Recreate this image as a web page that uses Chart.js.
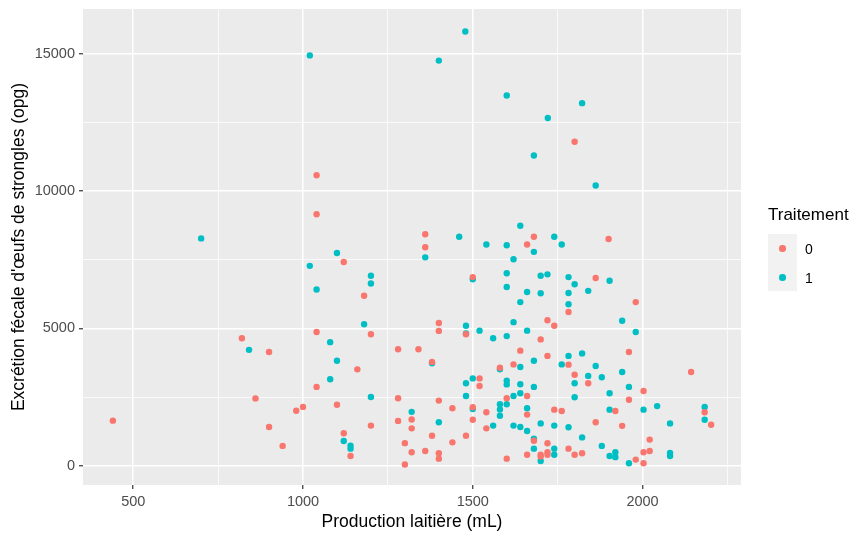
<!DOCTYPE html>
<html>
<head>
<meta charset="utf-8">
<script src="https://cdn.jsdelivr.net/npm/chart.js@4.4.1/dist/chart.umd.min.js"></script>
<style>
  body { margin: 0; background: #fff; }
  #wrap { position: relative; width: 857px; height: 533px; font-family: "Liberation Sans", Arial, sans-serif; }
  #legend { position: absolute; left: 768px; top: 203px; }
  #legend .ttl { font-size: 17px; color: #000; height: 24px; line-height: 24px; }
  #legend .box { position: absolute; top: 31px; left: 0; width: 29px; height: 57px; background: #F2F2F2; }
  #legend .dot { position: absolute; left: 11px; width: 6.5px; height: 6.5px; border-radius: 50%; }
  #legend .lab { position: absolute; left: 37px; font-size: 14px; color: #000; line-height: 16px; }
</style>
</head>
<body>
<div id="wrap">
  <canvas id="canvas" width="857" height="533"></canvas>
  <div id="legend">
    <div class="ttl">Traitement</div>
    <div class="box"></div>
    <div class="dot" style="top:42px;background:#F8766D"></div>
    <div class="dot" style="top:71px;background:#00BFC4"></div>
    <div class="lab" style="top:38px">0</div>
    <div class="lab" style="top:67px">1</div>
  </div>
</div>
<script>
// Traitement 0
var prod0 = [440, 820, 900, 860, 980, 1000, 900, 940, 1040, 1040, 1360, 1360, 1800, 1680, 1660, 1900,
  1120, 1180, 1040, 1200, 1280, 1340, 1160, 1040, 1280, 1100, 1280, 1320, 1200, 1320, 1120, 1140,
  1300, 1320, 1360, 1300, 1500, 1400, 1400, 1480, 1380, 1580, 1520, 1520, 1400, 1440, 1500, 1600,
  1540, 1500, 1540, 1380, 1480, 1440, 1400, 1400, 1600, 1720, 1740, 1700, 1640, 1720, 1620, 1660,
  1660, 1740, 1762, 1680, 1720, 1660, 1700, 1700, 1720, 1720, 1862, 1980, 1782, 1960, 1782, 1800,
  1840, 1960, 1920, 1862, 1940, 1782, 1800, 1822, 1980, 2143, 2003, 2183, 2202, 2021, 2003, 2021, 2003];
var exc0 = [1640, 4640, 4140, 2450, 2000, 2140, 1410, 720, 10580, 9160, 8430, 7960, 11800, 8340, 8060, 8260,
  7420, 6190, 4870, 4790, 4240, 4240, 3510, 2870, 2455, 2220, 1630, 1680, 1460, 1360, 1180, 350,
  820, 490, 535, 40, 6870, 5200, 4910, 4790, 3780, 3570, 3180, 2900, 2370, 2090, 2130, 2455,
  1945, 1675, 1360, 1090, 1090, 850, 450, 255, 255, 5300, 5100, 4600, 4190, 4000, 3690, 2540,
  1860, 2040, 1990, 910, 816, 400, 400, 330, 490, 400, 6840, 5960, 5600, 4140, 3680, 3310,
  3000, 2400, 1990, 1580, 1450, 620, 400, 450, 220, 3410, 2720, 1945, 1490, 950, 490, 535, 90];

// Traitement 1
var prod1 = [700, 841, 1020, 1478, 1400, 1460, 1540, 1100, 1360, 1600, 1822, 1721, 1680, 1862, 1640, 1740,
  1600, 1762, 1680, 1020, 1200, 1200, 1040, 1180, 1080, 1100, 1080, 1200, 1320, 1120, 1140, 1140,
  1500, 1600, 1600, 1480, 1480, 1520, 1560, 1600, 1380, 1580, 1500, 1480, 1600, 1600, 1480, 1500,
  1580, 1580, 1580, 1600, 1400, 1560, 1620, 1700, 1720, 1660, 1700, 1640, 1620, 1660, 1680, 1640,
  1762, 1640, 1680, 1620, 1640, 1660, 1620, 1640, 1660, 1700, 1740, 1680, 1680, 1740, 1740, 1700,
  1782, 1800, 1903, 1840, 1782, 1782, 1940, 1980, 1782, 1822, 1862, 1840, 1880, 1940, 1800, 1960,
  1903, 1800, 1903, 1782, 1822, 1880, 1903, 1920, 1920, 1960, 2003, 2043, 2183, 2183, 2081, 2081, 2081];
var exc1 = [8280, 4220, 14950, 15820, 14760, 8340, 8060, 7750, 7590, 13490, 13210, 12670, 11300, 10210, 8740, 8340,
  8030, 8060, 7790, 7280, 6920, 6640, 6420, 5150, 4500, 3820, 3150, 2500, 1960, 900, 730, 620,
  6790, 7010, 6510, 5100, 4820, 4920, 4640, 4720, 3730, 3510, 3180, 3000, 3100, 2960, 2540, 2065,
  2240, 2050, 1820, 2240, 1580, 1460, 7520, 6920, 6970, 6330, 6280, 5960, 5230, 4920, 3820, 3595,
  3690, 2965, 2870, 2540, 2640, 2090, 1460, 1410, 1260, 1540, 1460, 980, 620, 620, 400, 170,
  6870, 6610, 6740, 6370, 6290, 5880, 5280, 4870, 4000, 4090, 3630, 3270, 3220, 3410, 3000, 2870,
  2640, 2490, 2040, 1400, 1030, 720, 350, 490, 310, 90, 2040, 2170, 2140, 1675, 1540, 460, 350];

// tick positions (major get a label, minor only a grid line)
var xTicks = [500, 750, 1000, 1250, 1500, 1750, 2000, 2250];
var xLabels = [500, 1000, 1500, 2000];
var yTicks = [0, 2500, 5000, 7500, 10000, 12500, 15000];
var yLabels = [0, 5000, 10000, 15000];

function toPoints(xs, ys) {
  return xs.map(function (x, i) { return { x: x, y: ys[i] }; });
}

var panelBg = {
  id: 'panelBg',
  beforeDraw: function (chart) {
    var a = chart.chartArea, ctx = chart.ctx;
    ctx.save();
    ctx.fillStyle = '#EBEBEB';
    ctx.fillRect(a.left, a.top, a.right - a.left, a.bottom - a.top);
    ctx.restore();
  }
};

function gridWidth(labels) {
  return function (c) { return labels.indexOf(c.tick.value) >= 0 ? 1.5 : 0.75; };
}
function tickCol(labels) {
  return function (c) { return labels.indexOf(c.tick.value) >= 0 ? '#333333' : 'rgba(0,0,0,0)'; };
}

var tickFont = { family: '"Liberation Sans", Arial, sans-serif', size: 14.5 };
var titleFont = { family: '"Liberation Sans", Arial, sans-serif', size: 17.5 };

const config = {
  type: 'scatter',
  data: {
    datasets: [
      { label: '0', data: toPoints(prod0, exc0), backgroundColor: '#F8766D', borderWidth: 0, pointRadius: 3.2 },
      { label: '1', data: toPoints(prod1, exc1), backgroundColor: '#00BFC4', borderWidth: 0, pointRadius: 3.2 }
    ]
  },
  options: {
    responsive: false,
    animation: false,
    devicePixelRatio: 1,
    layout: { autoPadding: false, padding: { top: 9, right: 116, left: 0, bottom: 0 } },
    plugins: { legend: { display: false }, tooltip: { enabled: false } },
    scales: {
      x: {
        type: 'linear',
        min: 352,
        max: 2290,
        afterBuildTicks: function (s) { s.ticks = xTicks.map(function (v) { return { value: v }; }); },
        afterFit: function (s) { s.height = 48; s.paddingLeft = 0; s.paddingRight = 0; },
        border: { display: false },
        grid: { color: '#FFFFFF', lineWidth: gridWidth(xLabels), tickLength: 4, tickWidth: 1.2, tickColor: tickCol(xLabels) },
        ticks: {
          color: '#4D4D4D', font: tickFont, padding: 4, maxRotation: 0, autoSkip: false,
          callback: function (v) { return xLabels.indexOf(v) >= 0 ? String(v) : ''; }
        },
        title: { display: true, text: 'Production laitière (mL)', color: '#000', font: titleFont, padding: { top: 0, bottom: 0 } }
      },
      y: {
        type: 'linear',
        min: -705,
        max: 16640,
        afterBuildTicks: function (s) { s.ticks = yTicks.map(function (v) { return { value: v }; }); },
        afterFit: function (s) { s.width = 83; s.paddingTop = 0; s.paddingBottom = 0; },
        border: { display: false },
        grid: { color: '#FFFFFF', lineWidth: gridWidth(yLabels), tickLength: 4, tickWidth: 1.2, tickColor: tickCol(yLabels) },
        ticks: {
          color: '#4D4D4D', font: tickFont, padding: 4, autoSkip: false,
          callback: function (v) { return yLabels.indexOf(v) >= 0 ? String(v) : ''; }
        },
        title: { display: true, text: "Excrétion fécale d'œufs de strongles (opg)", color: '#000', font: titleFont, padding: { top: 9, bottom: 0 } }
      }
    }
  },
  plugins: [panelBg]
};

let myChart = new Chart(document.getElementById('canvas'), config);
</script>
</body>
</html>
